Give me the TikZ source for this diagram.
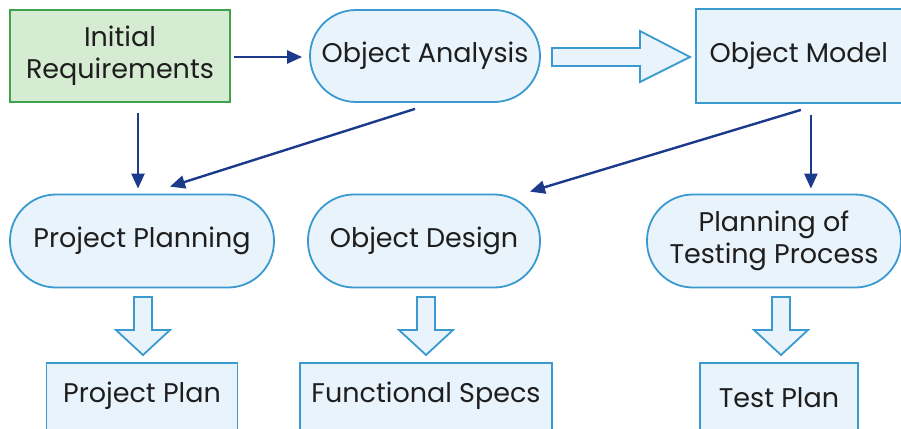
\documentclass[tikz,border=0pt]{standalone}
\usepackage{fontspec}
\setmainfont{Poppins}
\usetikzlibrary{calc,arrows.meta}
\definecolor{bfill}{HTML}{E9F3FB}
\definecolor{bdraw}{HTML}{3A9AD0}
\definecolor{gfill}{HTML}{D6ECD2}
\definecolor{gdraw}{HTML}{3FA34D}
\definecolor{navy}{HTML}{1B3A8C}
\definecolor{txt}{HTML}{1E1E1E}
\tikzset{
  lbl/.style={text=txt, font=\fontsize{27}{32}\selectfont, align=center},
  box/.style={lbl, draw=bdraw, fill=bfill, line width=1.8pt, inner sep=0pt},
  gbox/.style={box, draw=gdraw, fill=gfill},
  pill/.style={box, rounded corners=46pt},
  conn/.style={draw=navy, line width=2.4pt, -{Triangle[length=15pt,width=13pt]}},
  hollow/.style={draw=bdraw, fill=bfill, line width=1.8pt, line join=miter},
}
\begin{document}
\begin{tikzpicture}[x=1pt,y=-1pt]
\useasboundingbox (0,0) rectangle (901,428);
\clip (0,0) rectangle (901,428);
% top row
\node[gbox, minimum width=220pt, minimum height=92pt] (ir) at (120,56) {Initial\\Requirements};
\node[pill, minimum width=230pt, minimum height=92pt] (oa) at (425,56) {Object Analysis};
\node[box, minimum width=214pt, minimum height=94pt, anchor=west] (om) at (695,56) {};
\node[lbl, anchor=west] (omt) at (706,56) {Object Model};
% middle row
\node[pill, minimum width=264pt, minimum height=93pt] (pp) at (142,241) {Project Planning};
\node[pill, minimum width=232pt, minimum height=93pt] (od) at (424,241) {Object Design};
\node[pill, minimum width=254pt, minimum height=93pt] (pt) at (774,241) {Planning of\\Testing Process};
% bottom row
\node[box, minimum width=191pt, minimum height=80pt, anchor=north] (ppl) at (142,362) {};
\node[lbl] (pplt) at (142,396) {Project Plan};
\node[box, minimum width=252pt, minimum height=80pt, anchor=north] (fs) at (426,362) {};
\node[lbl] (fst) at (426,396) {Functional Specs};
\node[box, minimum width=158pt, minimum height=80pt, anchor=north] (tp) at (779,362) {};
\node[lbl] (tpt) at (779,398) {Test Plan};
% connectors
\coordinate (omd) at ($(om.south)+(8,11)$);
\draw[conn] ($(ir.east)+(3,1)$) -- ($(oa.west)+(-7,1)$);
\draw[conn] ($(ir.south)+(18,10)$) -- ($(pp.north)+(-4,-5)$);
\draw[conn] ($(oa.south)+(-10,6)$) -- ($(pp.north)+(28,-7)$);
\draw[conn] ($(om.south)+(-2,6)$) -- ($(od.north)+(106,-2)$);
\draw[conn] (omd) -- (omd |- {$(pt.north)+(0,-5)$});
% hollow arrows
\draw[hollow] (552,48) -- (640,48) -- (640,31) -- (690,57) -- (640,82) -- (640,66) -- (552,66) -- cycle;
\foreach \cx in {143,426,781}{
  \draw[hollow] (\cx-9,297) -- (\cx+9,297) -- (\cx+9,330) -- (\cx+27,330) -- (\cx,355) -- (\cx-27,330) -- (\cx-9,330) -- cycle;
}
\end{tikzpicture}
\end{document}
